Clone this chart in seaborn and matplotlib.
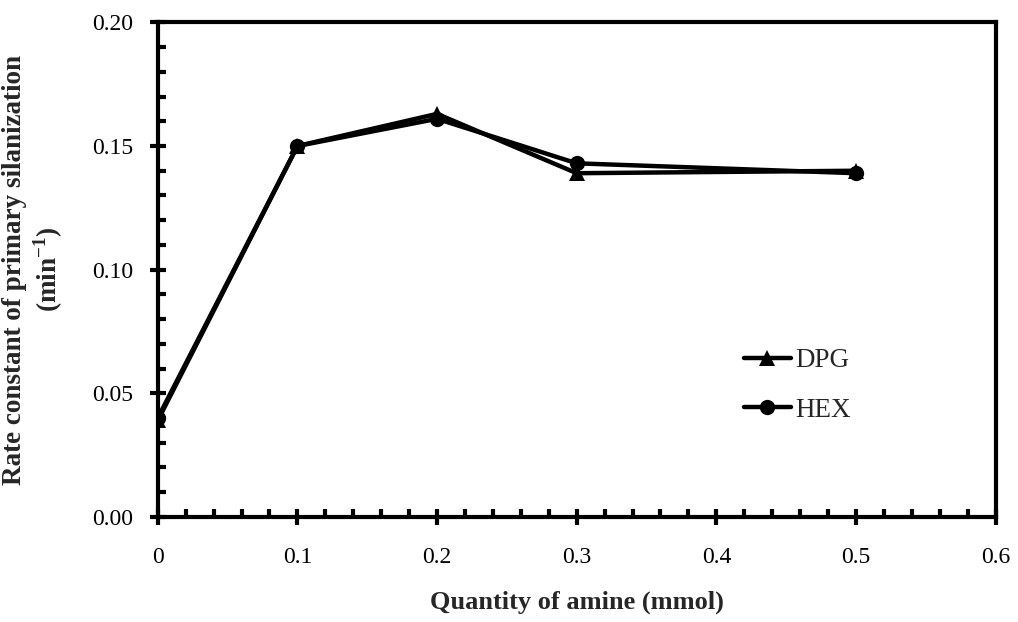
import matplotlib
matplotlib.use("Agg")
import matplotlib.pyplot as plt
import seaborn as sns
import pandas as pd
from matplotlib.ticker import MultipleLocator, FormatStrFormatter, FuncFormatter

amine = [0.0, 0.1, 0.2, 0.3, 0.5]
dpg = [0.039, 0.150, 0.163, 0.139, 0.140]
hex_ = [0.040, 0.150, 0.161, 0.143, 0.139]
series_names = ["DPG", "HEX"]

df = pd.DataFrame({
    "amine": amine * 2,
    "rate": dpg + hex_,
    "series": [series_names[0]] * len(amine) + [series_names[1]] * len(amine),
})

sns.set_style("ticks")
plt.rcParams["font.family"] = ["Liberation Serif", "DejaVu Serif"]
plt.rcParams["mathtext.fontset"] = "custom"
plt.rcParams["mathtext.rm"] = "Liberation Serif:bold"
plt.rcParams["mathtext.bf"] = "Liberation Serif:bold"

fig = plt.figure(figsize=(10.18, 6.22), dpi=100)
ax = fig.add_axes([0.155, 0.169, 0.823, 0.795])

sns.lineplot(data=df, x="amine", y="rate", hue="series", style="series",
             markers={"DPG": "^", "HEX": "o"}, dashes=False,
             palette={"DPG": "black", "HEX": "black"},
             linewidth=3.2, markersize=11, markeredgewidth=0, ax=ax)

ax.set_xlim(0, 0.6)
ax.set_ylim(0, 0.2)
ax.xaxis.set_major_locator(MultipleLocator(0.1))
ax.xaxis.set_minor_locator(MultipleLocator(0.02))
ax.yaxis.set_major_locator(MultipleLocator(0.05))
ax.yaxis.set_minor_locator(MultipleLocator(0.01))
ax.yaxis.set_major_formatter(FormatStrFormatter("%.2f"))
ax.xaxis.set_major_formatter(FuncFormatter(
    lambda v, p: "0" if abs(v) < 1e-9 else f"{v:.1f}"))

for s in ax.spines.values():
    s.set_linewidth(3)
    s.set_color("black")
ax.tick_params(which="major", direction="inout", length=11, width=3,
               labelsize=17, colors="black")
ax.tick_params(which="minor", direction="in", length=6, width=3, colors="black")
ax.tick_params(axis="y", which="major", pad=12)
ax.tick_params(axis="x", which="major", pad=16)

ax.set_xlabel("Quantity of amine (mmol)", fontsize=19, fontweight="bold")
ax.xaxis.set_label_coords(0.5, -0.149)
ax.set_ylabel("Rate constant of primary silanization\n(min$^{-1}$)", fontsize=19.5,
              fontweight="bold", linespacing=1.15)
ax.yaxis.set_label_coords(-0.111, 0.5)

leg = ax.legend(loc="center left", bbox_to_anchor=(0.670, 0.266), frameon=False,
                fontsize=19.5, handlelength=1.77, handletextpad=0.15,
                labelspacing=0.9, title=None)

fig.savefig("out.png", dpi=100)
